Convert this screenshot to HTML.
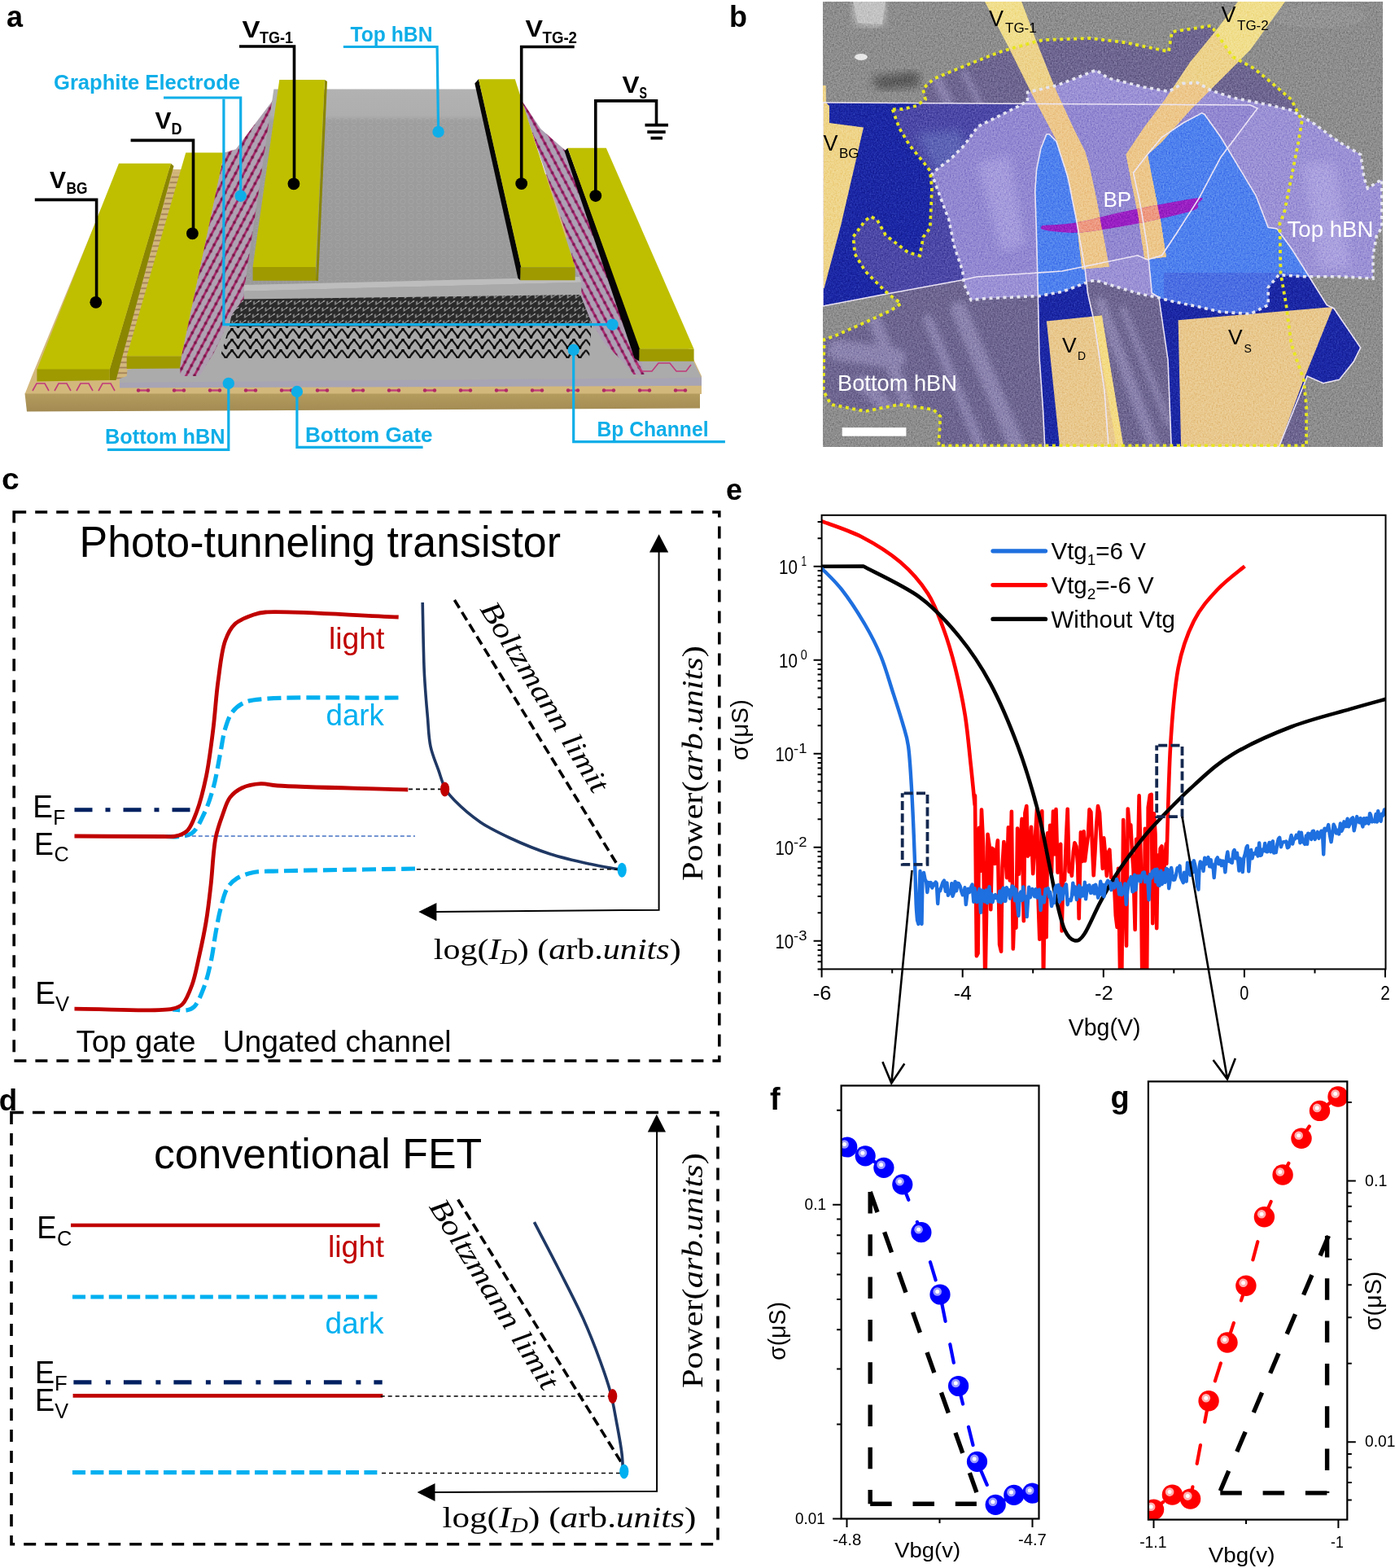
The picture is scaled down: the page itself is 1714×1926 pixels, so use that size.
<!DOCTYPE html>
<html><head><meta charset="utf-8"><title>Figure</title>
<style>html,body{margin:0;padding:0;background:#fff;}svg{display:block;}</style></head>
<body><svg xmlns="http://www.w3.org/2000/svg" width="1714" height="1926" viewBox="0 0 1714 1926">
<rect width="1714" height="1926" fill="#fff"/>
<defs>
<pattern id="pkl" width="9" height="9" patternUnits="userSpaceOnUse" patternTransform="rotate(-62)">
<rect width="9" height="9" fill="#AFA2B2"/><path d="M0 4.5H9" stroke="#A52064" stroke-width="2.6"/><circle cx="2" cy="4.5" r="1.9" fill="#7A1548"/></pattern>
<pattern id="pkr" width="9" height="9" patternUnits="userSpaceOnUse" patternTransform="rotate(62)">
<rect width="9" height="9" fill="#ADA0B4"/><path d="M0 4.5H9" stroke="#A8226E" stroke-width="2.6"/><circle cx="2" cy="4.5" r="1.9" fill="#7C1752"/></pattern>
<pattern id="bp" width="10" height="8" patternUnits="userSpaceOnUse" patternTransform="skewX(-35)">
<rect width="10" height="8" fill="#2A2A2A"/><path d="M1 2L4 6L7 2" fill="none" stroke="#9A9A9A" stroke-width="1.3"/><circle cx="7" cy="2" r="1" fill="#C8C8C8"/></pattern>
<pattern id="bp2" width="30" height="13" patternUnits="userSpaceOnUse">
<rect width="30" height="13" fill="#A9A9A9"/><path d="M0 1L7.5 11L15 1L22.5 11L30 1M7.5 11L12 4M22.5 11L27 4" fill="none" stroke="#151515" stroke-width="2.2"/><circle cx="7.5" cy="11" r="2" fill="#000"/><circle cx="22.5" cy="11" r="2" fill="#000"/><circle cx="15" cy="1.5" r="1.8" fill="#000"/></pattern>
<pattern id="hbn" width="10" height="9" patternUnits="userSpaceOnUse">
<rect width="10" height="9" fill="#9A9A9A"/><circle cx="5" cy="4.5" r="3.2" fill="none" stroke="#B4B4B4" stroke-width="1"/></pattern>
<pattern id="lad" width="40" height="6.5" patternUnits="userSpaceOnUse"><rect width="40" height="6.5" fill="#D3B87C"/><path d="M0 3.2H40" stroke="#9C7A50" stroke-width="1.6"/></pattern>
<linearGradient id="tbg" x1="0" y1="0" x2="0" y2="1"><stop offset="0" stop-color="#B2B2B2"/><stop offset="0.13" stop-color="#AEAEAE"/><stop offset="0.16" stop-color="#A0A0A0"/><stop offset="1" stop-color="#989898"/></linearGradient>
<linearGradient id="frt" x1="0" y1="0" x2="0" y2="1"><stop offset="0" stop-color="#B49C5E"/><stop offset="1" stop-color="#A28A52"/></linearGradient>
</defs>
<text x="8" y="33" font-size="36" font-family="'Liberation Sans', Arial, sans-serif" font-weight="bold">a</text>
<path d="M30.5 484L862 484L862 462L745 215L215 208L146 204L40 460Z" fill="#D3B87C"/>
<path d="M30.5 483.5L860 483.5L860 501.6L33 505.5Z" fill="url(#frt)"/>
<path d="M40 480l5 -9h10l5 9" fill="none" stroke="#C03A7A" stroke-width="1.6"/><path d="M67 480l5 -9h10l5 9" fill="none" stroke="#C03A7A" stroke-width="1.6"/><path d="M94 480l5 -9h10l5 9" fill="none" stroke="#C03A7A" stroke-width="1.6"/><path d="M121 480l5 -9h10l5 9" fill="none" stroke="#C03A7A" stroke-width="1.6"/>
<path d="M147 470.5L862 464L775 290L300 300L230 440L147 456Z" fill="#ABABAB"/>
<path d="M147 470L862 463.8L862 473.8L147 476.5Z" fill="#A7A4B4"/>
<path d="M170 479.5h12" stroke="#C0407A" stroke-width="2.4"/><circle cx="170" cy="479.5" r="2.2" fill="#B02A66"/><circle cx="182" cy="479.5" r="2.2" fill="#B02A66"/><path d="M214 479.5h12" stroke="#C0407A" stroke-width="2.4"/><circle cx="214" cy="479.5" r="2.2" fill="#B02A66"/><circle cx="226" cy="479.5" r="2.2" fill="#B02A66"/><path d="M258 479.5h12" stroke="#C0407A" stroke-width="2.4"/><circle cx="258" cy="479.5" r="2.2" fill="#B02A66"/><circle cx="270" cy="479.5" r="2.2" fill="#B02A66"/><path d="M302 479.5h12" stroke="#C0407A" stroke-width="2.4"/><circle cx="302" cy="479.5" r="2.2" fill="#B02A66"/><circle cx="314" cy="479.5" r="2.2" fill="#B02A66"/><path d="M346 479.5h12" stroke="#C0407A" stroke-width="2.4"/><circle cx="346" cy="479.5" r="2.2" fill="#B02A66"/><circle cx="358" cy="479.5" r="2.2" fill="#B02A66"/><path d="M390 479.5h12" stroke="#C0407A" stroke-width="2.4"/><circle cx="390" cy="479.5" r="2.2" fill="#B02A66"/><circle cx="402" cy="479.5" r="2.2" fill="#B02A66"/><path d="M434 479.5h12" stroke="#C0407A" stroke-width="2.4"/><circle cx="434" cy="479.5" r="2.2" fill="#B02A66"/><circle cx="446" cy="479.5" r="2.2" fill="#B02A66"/><path d="M478 479.5h12" stroke="#C0407A" stroke-width="2.4"/><circle cx="478" cy="479.5" r="2.2" fill="#B02A66"/><circle cx="490" cy="479.5" r="2.2" fill="#B02A66"/><path d="M522 479.5h12" stroke="#C0407A" stroke-width="2.4"/><circle cx="522" cy="479.5" r="2.2" fill="#B02A66"/><circle cx="534" cy="479.5" r="2.2" fill="#B02A66"/><path d="M566 479.5h12" stroke="#C0407A" stroke-width="2.4"/><circle cx="566" cy="479.5" r="2.2" fill="#B02A66"/><circle cx="578" cy="479.5" r="2.2" fill="#B02A66"/><path d="M610 479.5h12" stroke="#C0407A" stroke-width="2.4"/><circle cx="610" cy="479.5" r="2.2" fill="#B02A66"/><circle cx="622" cy="479.5" r="2.2" fill="#B02A66"/><path d="M654 479.5h12" stroke="#C0407A" stroke-width="2.4"/><circle cx="654" cy="479.5" r="2.2" fill="#B02A66"/><circle cx="666" cy="479.5" r="2.2" fill="#B02A66"/><path d="M698 479.5h12" stroke="#C0407A" stroke-width="2.4"/><circle cx="698" cy="479.5" r="2.2" fill="#B02A66"/><circle cx="710" cy="479.5" r="2.2" fill="#B02A66"/><path d="M742 479.5h12" stroke="#C0407A" stroke-width="2.4"/><circle cx="742" cy="479.5" r="2.2" fill="#B02A66"/><circle cx="754" cy="479.5" r="2.2" fill="#B02A66"/><path d="M786 479.5h12" stroke="#C0407A" stroke-width="2.4"/><circle cx="786" cy="479.5" r="2.2" fill="#B02A66"/><circle cx="798" cy="479.5" r="2.2" fill="#B02A66"/><path d="M830 479.5h12" stroke="#C0407A" stroke-width="2.4"/><circle cx="830" cy="479.5" r="2.2" fill="#B02A66"/><circle cx="842" cy="479.5" r="2.2" fill="#B02A66"/>
<path d="M282 400L727 398L724 440L270 440Z" fill="url(#bp2)"/>
<path d="M288 364L727 360L727 400L282 401Z" fill="url(#bp)"/>
<path d="M212 212L228 212L158 440L155.7 462L142 467Z" fill="url(#lad)"/>
<path d="M209.9 200.7L213.5 204L142.5 467L134.7 467L134.7 454Z" fill="#8A8600"/>
<path d="M146 200.7L209.9 200.7L134.7 454L45.4 454Z" fill="#BFBF00"/>
<path d="M45.4 453.5L134.7 453.5L134.7 467L45.4 468.5Z" fill="#9E9A00"/>
<path d="M228.3 187.4L275.6 187.4L223 437.6L155.7 437.6Z" fill="#BFBF00"/>
<path d="M155.7 437.6L223 437.6L223 452.5L155.7 453Z" fill="#9E9A00"/>
<path d="M345 108L340 180L330 220L318 298L306 358L286 385L262.5 433.8L245 462L222 462L221 452L223 437.6L275.6 187.4L289.8 183.2L333.4 125.6Z" fill="url(#pkl)"/>
<path d="M640 122L664.6 158.4L694.4 184.6L787 440L792 460L778 460L766.7 445.6L742.4 421.4L725.6 393.4L710.7 356L700 300Z" fill="url(#pkr)"/>
<path d="M781 446l8 10h12l8 -10h14l8 10h12l6 -8" fill="none" stroke="#C03A7A" stroke-width="1.6"/>
<path d="M336.4 109.4L590 109.4L714.4 346.7L299.7 357.7Z" fill="url(#tbg)"/>
<path d="M336 145L600 145L712 340L302 350Z" fill="url(#hbn)" opacity="0.3"/>
<path d="M300 350L712 340L714.4 346.7L299.7 357.7Z" fill="#BDBDBD"/>
<path d="M299.7 357.7L714.4 346.7L714.4 362L299.7 367.6Z" fill="#A9A9A9"/>
<path d="M398.9 97.9L402 100L391 345L388 344.8Z" fill="#8A8600"/>
<path d="M343.3 97.9L398.9 97.9L388 328L310.6 328Z" fill="#BFBF00"/>
<path d="M310.6 328L388 328L388 344.8L310.6 344.8Z" fill="#9E9A00"/>
<path d="M583.3 102.4L588 97.2L640.3 328.3L639.4 344.2L636.5 342Z" fill="#050505"/>
<path d="M588 97.2L632.8 97.2L706.6 328.3L640.3 328.3Z" fill="#BFBF00"/>
<path d="M639.4 328.3L706.6 328.3L706.6 344.2L639.4 344.2Z" fill="#9E9A00"/>
<path d="M693.5 185.5L697.5 181.8L787 428.8L785.4 443.8L779.5 440Z" fill="#050505"/>
<path d="M697.5 181.8L744.8 181.8L852.6 428.8L786 428.8Z" fill="#BFBF00"/>
<path d="M785.4 428.8L852.6 428.8L852.6 443.8L785.4 443.8Z" fill="#9E9A00"/>
<path d="M42.8 245.4H118.6V371.3M160.6 172.4H237.5V287M294 57H361.5V225.8M705.7 57.5H640.7V225.6M731.8 240.6V123.9H806.5V153.7" fill="none" stroke="#000" stroke-width="3.6"/><path d="M792.5 153.7H821M795.3 162.2H817.7M799.5 169.6H814" fill="none" stroke="#000" stroke-width="3.8"/><circle cx="117.8" cy="371.3" r="7.4" fill="#000"/><circle cx="236.4" cy="286.8" r="7.4" fill="#000"/><circle cx="360.9" cy="225.8" r="7.4" fill="#000"/><circle cx="640.7" cy="225.6" r="7.4" fill="#000"/><circle cx="731.8" cy="240.6" r="7.4" fill="#000"/>
<path d="M421.9 57.5H537.1L538.6 161.9M201 120H295.7V240.7M274.9 121.7V398.7H752M280.8 470.9V552.3H132M364.9 481V549.3H519.6M704.7 429.8V542.7H890.9" fill="none" stroke="#0FAEE8" stroke-width="3.2"/><circle cx="538.6" cy="161.9" r="7.2" fill="#0FAEE8"/><circle cx="295.7" cy="240.7" r="7.2" fill="#0FAEE8"/><circle cx="752.5" cy="398.7" r="7.2" fill="#0FAEE8"/><circle cx="280.8" cy="470.9" r="7.2" fill="#0FAEE8"/><circle cx="364.9" cy="481" r="7.2" fill="#0FAEE8"/><circle cx="704.7" cy="429.8" r="7.2" fill="#0FAEE8"/>
<text x="297.5" y="46" font-size="30" font-family="'Liberation Sans', Arial, sans-serif" font-weight="bold" textLength="22" lengthAdjust="spacingAndGlyphs">V</text><text x="319" y="52.5" font-size="20" font-family="'Liberation Sans', Arial, sans-serif" font-weight="bold" textLength="41" lengthAdjust="spacingAndGlyphs">TG-1</text>
<text x="190.5" y="157.5" font-size="30" font-family="'Liberation Sans', Arial, sans-serif" font-weight="bold" textLength="20" lengthAdjust="spacingAndGlyphs">V</text><text x="210.5" y="165" font-size="20" font-family="'Liberation Sans', Arial, sans-serif" font-weight="bold" textLength="13" lengthAdjust="spacingAndGlyphs">D</text>
<text x="61" y="231" font-size="30" font-family="'Liberation Sans', Arial, sans-serif" font-weight="bold" textLength="20" lengthAdjust="spacingAndGlyphs">V</text><text x="81.5" y="237.5" font-size="20" font-family="'Liberation Sans', Arial, sans-serif" font-weight="bold" textLength="26" lengthAdjust="spacingAndGlyphs">BG</text>
<text x="645.5" y="45.2" font-size="30" font-family="'Liberation Sans', Arial, sans-serif" font-weight="bold" textLength="21.5" lengthAdjust="spacingAndGlyphs">V</text><text x="666.5" y="52.5" font-size="20" font-family="'Liberation Sans', Arial, sans-serif" font-weight="bold" textLength="42.5" lengthAdjust="spacingAndGlyphs">TG-2</text>
<text x="764.5" y="113.6" font-size="30" font-family="'Liberation Sans', Arial, sans-serif" font-weight="bold" textLength="21" lengthAdjust="spacingAndGlyphs">V</text><text x="785.5" y="121" font-size="20" font-family="'Liberation Sans', Arial, sans-serif" font-weight="bold" textLength="9.5" lengthAdjust="spacingAndGlyphs">S</text>
<text x="430.5" y="51" font-size="25" font-family="'Liberation Sans', Arial, sans-serif" font-weight="bold" fill="#0FAEE8" textLength="101" lengthAdjust="spacingAndGlyphs">Top hBN</text>
<text x="66" y="110" font-size="25" font-family="'Liberation Sans', Arial, sans-serif" font-weight="bold" fill="#0FAEE8" textLength="229" lengthAdjust="spacingAndGlyphs">Graphite Electrode</text>
<text x="129" y="545.3" font-size="25" font-family="'Liberation Sans', Arial, sans-serif" font-weight="bold" fill="#0FAEE8" textLength="147.5" lengthAdjust="spacingAndGlyphs">Bottom hBN</text>
<text x="375" y="542.7" font-size="25" font-family="'Liberation Sans', Arial, sans-serif" font-weight="bold" fill="#0FAEE8" textLength="156.5" lengthAdjust="spacingAndGlyphs">Bottom Gate</text>
<text x="733.5" y="536.2" font-size="25" font-family="'Liberation Sans', Arial, sans-serif" font-weight="bold" fill="#0FAEE8" textLength="137" lengthAdjust="spacingAndGlyphs">Bp Channel</text>
<text x="896" y="33" font-size="36" font-family="'Liberation Sans', Arial, sans-serif" font-weight="bold">b</text>
<defs>
<clipPath id="cb"><rect x="1011" y="2" width="688" height="547"/></clipPath>
<clipPath id="chb"><path d="M1096.6 134.4L1105 157.5L1117.6 178.5L1136.5 201.6L1142.8 210L1145 231L1142.8 280L1134.4 291L1130.2 314.1L1115.5 309.9L1088.2 288.9L1077.7 270L1070 266L1063 271L1048.3 291L1050.4 312L1063 333L1088.2 358.2L1098.7 366.6L1107.1 372.9L1094.5 381.3L1063 396L1025.2 412.8L1012.6 417L1011.6 480L1021 496.8L1063 505.2L1105 496.8L1147 503.1L1155.4 511.5L1153.3 547.5L1605.1 547.5L1605.1 499.1L1601.8 466.4L1586.6 422.7L1580 372.6L1573.5 335.5L1572.4 274.4L1577.8 261.8L1586.6 218.2L1595.3 174.6L1599.7 148.4L1586.6 122.2L1558.2 98.2L1540.7 84L1514.6 69.8L1492.7 38.2L1488 31.6L1440 39L1436 63.3L1383.6 52.4L1340 47L1283 49L1273 51L1231 63L1210 71L1168 88L1147 97L1134 109L1137 122L1126 130L1109 134Z"/></clipPath>
<clipPath id="cth"><path d="M1262.5 124L1262.5 113.4L1298 105L1315 98.7L1346.6 86.1L1361.8 96L1405.5 107L1436 112.4L1453.5 102.6L1471 101.5L1488.4 111.3L1514.6 120L1558.2 128.7L1586.6 135.3L1612.7 150.6L1645.5 174.6L1671.7 189.8L1676 218.2L1680.4 231.3L1697.8 220.4L1697.8 279.3L1691.3 290L1687 313.6L1687 342L1645.5 339.8L1601.8 339.8L1571.3 337.6L1558.2 352.9L1558.2 374.7L1536.4 385.6L1500 383.2L1470 376.2L1442 370.6L1421 365L1400 360.8L1372 352.4L1345.4 344L1335.6 346.8L1306.2 358L1276.8 363.6L1260 364.3L1210 366.6L1193.2 368.7L1184.8 349.8L1182.7 333L1172.2 301.5L1165.9 270L1151.2 231L1145 214.2L1151.2 208L1168 195.3L1184.8 178.5L1201.6 155.4L1226.8 142.8L1252 130.2Z"/></clipPath>
<filter id="nz" x="0" y="0" width="100%" height="100%"><feTurbulence type="fractalNoise" baseFrequency="0.9" numOctaves="2" seed="3" result="t"/><feColorMatrix in="t" type="matrix" values="0 0 0 0 0  0 0 0 0 0  0 0 0 0 0  0 0 0 -1.2 0.75" result="a"/><feComposite in="a" in2="SourceGraphic" operator="in"/></filter>
<filter id="bl"><feGaussianBlur stdDeviation="6"/></filter><filter id="nz2" x="0" y="0" width="100%" height="100%" color-interpolation-filters="sRGB"><feTurbulence type="fractalNoise" baseFrequency="0.55" numOctaves="2" seed="5"/><feColorMatrix type="matrix" values="0.33 0.33 0.33 0 0  0.33 0.33 0.33 0 0  0.33 0.33 0.33 0 0  0 0 0 0 1"/><feComponentTransfer><feFuncR type="linear" slope="2.2" intercept="-0.6"/><feFuncG type="linear" slope="2.2" intercept="-0.6"/><feFuncB type="linear" slope="2.2" intercept="-0.6"/></feComponentTransfer></filter><filter id="bl2" x="-20%" y="-20%" width="140%" height="140%"><feGaussianBlur stdDeviation="3.5"/></filter>
</defs>
<g clip-path="url(#cb)" style="isolation:isolate"><rect x="1011" y="2" width="688" height="547" fill="#8E8E8E"/><path d="M1048 2H1088L1084 32L1052 30Z" fill="#C9C9C9" filter="url(#bl)"/><path d="M1048 2H1088L1084 30L1054 28Z" fill="#C4C4C4"/><ellipse cx="1058" cy="70" rx="8" ry="4" fill="#E8E8E8"/><path d="M1070 95L1128 88L1130 106L1080 110Z" fill="#555" filter="url(#bl)"/><ellipse cx="1620" cy="20" rx="60" ry="15" fill="#999" opacity="0.5"/><circle cx="1529" cy="93" r="9" fill="#3a3550" filter="url(#bl)"/><path d="M1096.6 134.4L1105 157.5L1117.6 178.5L1136.5 201.6L1142.8 210L1145 231L1142.8 280L1134.4 291L1130.2 314.1L1115.5 309.9L1088.2 288.9L1077.7 270L1070 266L1063 271L1048.3 291L1050.4 312L1063 333L1088.2 358.2L1098.7 366.6L1107.1 372.9L1094.5 381.3L1063 396L1025.2 412.8L1012.6 417L1011.6 480L1021 496.8L1063 505.2L1105 496.8L1147 503.1L1155.4 511.5L1153.3 547.5L1605.1 547.5L1605.1 499.1L1601.8 466.4L1586.6 422.7L1580 372.6L1573.5 335.5L1572.4 274.4L1577.8 261.8L1586.6 218.2L1595.3 174.6L1599.7 148.4L1586.6 122.2L1558.2 98.2L1540.7 84L1514.6 69.8L1492.7 38.2L1488 31.6L1440 39L1436 63.3L1383.6 52.4L1340 47L1283 49L1273 51L1231 63L1210 71L1168 88L1147 97L1134 109L1137 122L1126 130L1109 134Z" fill="#6F6792"/><g clip-path="url(#chb)"><g opacity="0.55" filter="url(#bl2)" stroke="#A59DC8" fill="none" stroke-linecap="round"><path d="M1075 395L1135 549" stroke-width="16"/><path d="M1140 392L1205 549" stroke-width="12"/><path d="M1178 380L1250 549" stroke-width="20"/><path d="M1352 372L1418 549" stroke-width="14"/><path d="M1380 380L1436 520" stroke-width="8"/><path d="M1150 95L1200 200" stroke-width="12"/><path d="M1185 90L1235 190" stroke-width="8"/><path d="M1030 430L1100 440" stroke-width="26"/><path d="M1060 470L1090 500" stroke-width="18"/></g></g><path d="M1011 126L1536 129L1545 133L1500 193L1473 243.8L1445 287.5L1427.5 313.8L1410 319L1397.8 313.8L1305 333L1200 340L1185 343.5L1084 362L1011 376Z" fill="#1B27A6"/><g clip-path="url(#chb)"><path d="M1011 126L1536 129L1545 133L1500 193L1473 243.8L1445 287.5L1427.5 313.8L1410 319L1397.8 313.8L1305 333L1200 340L1185 343.5L1084 362L1011 376Z" fill="#4C48A8"/></g><path d="M1126 164L1180 160L1190 200L1150 212Z" fill="#6A78C0" opacity="0.6" filter="url(#bl)"/><path d="M1285.8 165L1289.3 165L1298 173.8L1312 217.5L1322.5 270L1333 329.6L1336.5 360L1344.5 396L1357 480L1362 549L1283.8 549L1281.4 501L1277 438L1275.3 360L1273.5 287.5L1271.8 235L1273.5 208.8L1278.8 182.5Z" fill="#1B27A6"/><path d="M1392.5 212.3L1410 189.5L1427.5 168.5L1453.8 151L1476.6 138.8L1480 140.5L1500 168.5L1523.3 207.3L1543 240L1558.2 279.3L1569 281L1586.6 305L1601.8 329L1630.2 374.7L1639 379L1667.3 420.6L1671.7 427L1663 444.6L1645.5 466.4L1625.8 470.7L1606.2 462L1571.3 549L1439.2 549L1435 442L1423.8 365L1415.3 360L1410 305L1401.3 252.5Z" fill="#1B27A6"/><path d="M1262.5 124L1262.5 113.4L1298 105L1315 98.7L1346.6 86.1L1361.8 96L1405.5 107L1436 112.4L1453.5 102.6L1471 101.5L1488.4 111.3L1514.6 120L1558.2 128.7L1586.6 135.3L1612.7 150.6L1645.5 174.6L1671.7 189.8L1676 218.2L1680.4 231.3L1697.8 220.4L1697.8 279.3L1691.3 290L1687 313.6L1687 342L1645.5 339.8L1601.8 339.8L1571.3 337.6L1558.2 352.9L1558.2 374.7L1536.4 385.6L1500 383.2L1470 376.2L1442 370.6L1421 365L1400 360.8L1372 352.4L1345.4 344L1335.6 346.8L1306.2 358L1276.8 363.6L1260 364.3L1210 366.6L1193.2 368.7L1184.8 349.8L1182.7 333L1172.2 301.5L1165.9 270L1151.2 231L1145 214.2L1151.2 208L1168 195.3L1184.8 178.5L1201.6 155.4L1226.8 142.8L1252 130.2Z" fill="#9C92D6"/><g clip-path="url(#cth)"><path d="M1011 126L1536 129L1545 133L1500 193L1473 243.8L1445 287.5L1427.5 313.8L1410 319L1397.8 313.8L1305 333L1200 340L1185 343.5L1084 362L1011 376Z" fill="#9389D2"/><path d="M1285.8 165L1289.3 165L1298 173.8L1312 217.5L1322.5 270L1333 329.6L1336.5 360L1344.5 396L1357 480L1362 549L1283.8 549L1281.4 501L1277 438L1275.3 360L1273.5 287.5L1271.8 235L1273.5 208.8L1278.8 182.5Z" fill="#4F82EE"/><path d="M1392.5 212.3L1410 189.5L1427.5 168.5L1453.8 151L1476.6 138.8L1480 140.5L1500 168.5L1523.3 207.3L1543 240L1558.2 279.3L1569 281L1586.6 305L1601.8 329L1630.2 374.7L1639 379L1667.3 420.6L1671.7 427L1663 444.6L1645.5 466.4L1625.8 470.7L1606.2 462L1571.3 549L1439.2 549L1435 442L1423.8 365L1415.3 360L1410 305L1401.3 252.5Z" fill="#4F82EE"/><path d="M1430 335H1600V390H1430Z" fill="#4A6CE0" opacity="0.85"/></g><g clip-path="url(#cth)" opacity="0.35"><path d="M1011 140L1060 130L1110 300L1060 320Z M1200 200L1240 190L1260 300L1230 310Z M1600 200L1640 200L1660 330L1620 330Z" fill="#C8C0F0" filter="url(#bl)"/></g><path d="M1210 2L1255.2 2L1277 60L1298 112.5L1319 158L1333 186L1338.3 203.5L1347 243.8L1361 319L1362.8 327.5L1329.5 330.5L1322.5 270L1313.8 226.3L1305 193L1298 172L1270 119.5L1240.3 60Z" fill="#F1DF8E"/><g clip-path="url(#cth)"><path d="M1210 2L1255.2 2L1277 60L1298 112.5L1319 158L1333 186L1338.3 203.5L1347 243.8L1361 319L1362.8 327.5L1329.5 330.5L1322.5 270L1313.8 226.3L1305 193L1298 172L1270 119.5L1240.3 60Z" fill="#EFC48E"/></g><g clip-path="url(#chb)"><path d="M1210 2L1255.2 2L1277 60L1298 112.5L1319 158L1333 186L1338.3 203.5L1347 243.8L1361 319L1362.8 327.5L1329.5 330.5L1322.5 270L1313.8 226.3L1305 193L1298 172L1270 119.5L1240.3 60Z" fill="#EBCB8A" opacity="0.6"/></g><path d="M1521 2L1579 2L1536.4 61.1L1492.7 104.7L1462.2 135.3L1427.3 174.6L1410 190L1415.3 217.5L1425.8 270L1432.8 315.6L1406.5 319L1397.8 261.3L1389 217.5L1383.6 189.8L1405.5 157.1L1431.6 122.2L1462.2 76.4L1492.7 39.3Z" fill="#F1DF8E"/><g clip-path="url(#cth)"><path d="M1521 2L1579 2L1536.4 61.1L1492.7 104.7L1462.2 135.3L1427.3 174.6L1410 190L1415.3 217.5L1425.8 270L1432.8 315.6L1406.5 319L1397.8 261.3L1389 217.5L1383.6 189.8L1405.5 157.1L1431.6 122.2L1462.2 76.4L1492.7 39.3Z" fill="#EFC48E"/></g><g clip-path="url(#chb)"><path d="M1521 2L1579 2L1536.4 61.1L1492.7 104.7L1462.2 135.3L1427.3 174.6L1410 190L1415.3 217.5L1425.8 270L1432.8 315.6L1406.5 319L1397.8 261.3L1389 217.5L1383.6 189.8L1405.5 157.1L1431.6 122.2L1462.2 76.4L1492.7 39.3Z" fill="#EBCB8A" opacity="0.6"/></g><path d="M1011 105L1014.7 105L1015 126L1019 130L1019 151L1061 156.5L1033.6 275L1012.6 354L1011 354Z" fill="#EFD58A"/><path d="M1285.9 394.4L1353.8 387.4L1380.4 549L1302 549Z" fill="#E9C98E"/><path d="M1344 388.8L1353.8 387.4L1380.4 549L1372 549Z" fill="#F4DC86"/><path d="M1447.6 393.3L1637.8 377L1601.8 466.4L1571.3 549L1451.1 549Z" fill="#E9C98E"/><path d="M1290 112L1330 112L1345 210L1300 205Z" fill="#F2C48A" opacity="0.0"/><path d="M1280.5 277C1287.5 276.4 1306.8 276.1 1322.5 273.5C1338.2 270.9 1357.5 265.1 1375 261.3C1392.5 257.5 1410.9 253.9 1427.5 250.8C1444.1 247.8 1467.4 243.1 1474.8 243C1482.2 242.9 1473.2 247.5 1472 250C1470.8 252.5 1475.2 254.8 1467.8 257.8C1460.4 260.9 1443 264.8 1427.5 268.3C1412 271.8 1392.5 275.9 1375 278.8C1357.5 281.7 1338 285.2 1322.5 285.8C1307 286.4 1289.3 283.8 1282.3 282.3C1275.3 280.8 1280.8 277.9 1280.5 277" fill="#9B1FC4"/><clipPath id="cel"><path d="M1210 2L1255.2 2L1277 60L1298 112.5L1319 158L1333 186L1338.3 203.5L1347 243.8L1361 319L1362.8 327.5L1329.5 330.5L1322.5 270L1313.8 226.3L1305 193L1298 172L1270 119.5L1240.3 60Z"/><path d="M1521 2L1579 2L1536.4 61.1L1492.7 104.7L1462.2 135.3L1427.3 174.6L1410 190L1415.3 217.5L1425.8 270L1432.8 315.6L1406.5 319L1397.8 261.3L1389 217.5L1383.6 189.8L1405.5 157.1L1431.6 122.2L1462.2 76.4L1492.7 39.3Z"/></clipPath><g clip-path="url(#cel)"><path d="M1280.5 277C1287.5 276.4 1306.8 276.1 1322.5 273.5C1338.2 270.9 1357.5 265.1 1375 261.3C1392.5 257.5 1410.9 253.9 1427.5 250.8C1444.1 247.8 1467.4 243.1 1474.8 243C1482.2 242.9 1473.2 247.5 1472 250C1470.8 252.5 1475.2 254.8 1467.8 257.8C1460.4 260.9 1443 264.8 1427.5 268.3C1412 271.8 1392.5 275.9 1375 278.8C1357.5 281.7 1338 285.2 1322.5 285.8C1307 286.4 1289.3 283.8 1282.3 282.3C1275.3 280.8 1280.8 277.9 1280.5 277" fill="#EE9A82"/></g><path d="M1011 126L1536 129L1545 133L1500 193L1473 243.8L1445 287.5L1427.5 313.8L1410 319L1397.8 313.8L1305 333L1200 340L1185 343.5L1084 362L1011 376Z" fill="none" stroke="#EDE6F5" stroke-width="1.6"/><path d="M1285.8 165L1289.3 165L1298 173.8L1312 217.5L1322.5 270L1333 329.6L1336.5 360L1344.5 396L1357 480L1362 549L1283.8 549L1281.4 501L1277 438L1275.3 360L1273.5 287.5L1271.8 235L1273.5 208.8L1278.8 182.5Z" fill="none" stroke="#EDE6F5" stroke-width="1.6"/><path d="M1392.5 212.3L1410 189.5L1427.5 168.5L1453.8 151L1476.6 138.8L1480 140.5L1500 168.5L1523.3 207.3L1543 240L1558.2 279.3L1569 281L1586.6 305L1601.8 329L1630.2 374.7L1639 379L1667.3 420.6L1671.7 427L1663 444.6L1645.5 466.4L1625.8 470.7L1606.2 462L1571.3 549L1439.2 549L1435 442L1423.8 365L1415.3 360L1410 305L1401.3 252.5Z" fill="none" stroke="#EDE6F5" stroke-width="1.6"/><path d="M1262.5 124L1262.5 113.4L1298 105L1315 98.7L1346.6 86.1L1361.8 96L1405.5 107L1436 112.4L1453.5 102.6L1471 101.5L1488.4 111.3L1514.6 120L1558.2 128.7L1586.6 135.3L1612.7 150.6L1645.5 174.6L1671.7 189.8L1676 218.2L1680.4 231.3L1697.8 220.4L1697.8 279.3L1691.3 290L1687 313.6L1687 342L1645.5 339.8L1601.8 339.8L1571.3 337.6L1558.2 352.9L1558.2 374.7L1536.4 385.6L1500 383.2L1470 376.2L1442 370.6L1421 365L1400 360.8L1372 352.4L1345.4 344L1335.6 346.8L1306.2 358L1276.8 363.6L1260 364.3L1210 366.6L1193.2 368.7L1184.8 349.8L1182.7 333L1172.2 301.5L1165.9 270L1151.2 231L1145 214.2L1151.2 208L1168 195.3L1184.8 178.5L1201.6 155.4L1226.8 142.8L1252 130.2Z" fill="none" stroke="#E6E6F0" stroke-width="3.6" stroke-dasharray="4 4.5"/><path d="M1096.6 134.4L1105 157.5L1117.6 178.5L1136.5 201.6L1142.8 210L1145 231L1142.8 280L1134.4 291L1130.2 314.1L1115.5 309.9L1088.2 288.9L1077.7 270L1070 266L1063 271L1048.3 291L1050.4 312L1063 333L1088.2 358.2L1098.7 366.6L1107.1 372.9L1094.5 381.3L1063 396L1025.2 412.8L1012.6 417L1011.6 480L1021 496.8L1063 505.2L1105 496.8L1147 503.1L1155.4 511.5L1153.3 547.5L1605.1 547.5L1605.1 499.1L1601.8 466.4L1586.6 422.7L1580 372.6L1573.5 335.5L1572.4 274.4L1577.8 261.8L1586.6 218.2L1595.3 174.6L1599.7 148.4L1586.6 122.2L1558.2 98.2L1540.7 84L1514.6 69.8L1492.7 38.2L1488 31.6L1440 39L1436 63.3L1383.6 52.4L1340 47L1283 49L1273 51L1231 63L1210 71L1168 88L1147 97L1134 109L1137 122L1126 130L1109 134Z" fill="none" stroke="#E8E81E" stroke-width="3.8" stroke-dasharray="4 4.5"/><rect x="1011" y="2" width="688" height="547" filter="url(#nz2)" opacity="0.55" style="mix-blend-mode:soft-light"/></g>
<text x="1215" y="31.5" font-size="27" font-family="'Liberation Sans', Arial, sans-serif">V</text><text x="1235" y="40" font-size="17" font-family="'Liberation Sans', Arial, sans-serif">TG-1</text>
<text x="1500.5" y="27.3" font-size="27" font-family="'Liberation Sans', Arial, sans-serif">V</text><text x="1520" y="37.1" font-size="17" font-family="'Liberation Sans', Arial, sans-serif">TG-2</text>
<text x="1011.5" y="184.8" font-size="27" font-family="'Liberation Sans', Arial, sans-serif">V</text><text x="1031" y="194.3" font-size="17" font-family="'Liberation Sans', Arial, sans-serif">BG</text>
<text x="1305" y="433" font-size="26.5" font-family="'Liberation Sans', Arial, sans-serif">V</text><text x="1324" y="442" font-size="14" font-family="'Liberation Sans', Arial, sans-serif">D</text>
<text x="1509" y="422.7" font-size="26.5" font-family="'Liberation Sans', Arial, sans-serif">V</text><text x="1528.5" y="432.6" font-size="14" font-family="'Liberation Sans', Arial, sans-serif">S</text>
<text x="1355.5" y="254.3" font-size="26" font-family="'Liberation Sans', Arial, sans-serif" fill="#fff">BP</text>
<text x="1581.5" y="290.7" font-size="28" font-family="'Liberation Sans', Arial, sans-serif" fill="#fff" textLength="106" lengthAdjust="spacingAndGlyphs">Top hBN</text>
<text x="1029" y="480" font-size="28" font-family="'Liberation Sans', Arial, sans-serif" fill="#fff" textLength="147" lengthAdjust="spacingAndGlyphs">Bottom hBN</text>
<rect x="1034.7" y="525.2" width="78.7" height="10.5" fill="#fff"/>
<text x="2" y="600.8" font-size="37" font-family="'Liberation Sans', Arial, sans-serif" textLength="21.6" lengthAdjust="spacingAndGlyphs" font-weight="bold">c</text>
<rect x="17.2" y="629" width="866.6" height="674" fill="none" stroke="#000" stroke-width="3.6" stroke-dasharray="15 11"/>
<text x="97.6" y="683.9" font-size="54" font-family="'Liberation Sans', Arial, sans-serif" textLength="591.4" lengthAdjust="spacingAndGlyphs">Photo-tunneling transistor</text>
<path d="M203 1027.5C208.1 1027.5 213.1 1028.2 218.4 1027.6C224.1 1026.9 230.9 1027 235.9 1023.4C242.1 1019 246.3 1008.7 250.5 1000C255.2 990.4 258.7 979.6 262 968C265.7 954.6 268.3 937.1 270.9 924C273 913.3 274 903.7 276.7 895C279 887.5 281.3 880.1 285.5 874.6C289.3 869.6 294.2 865.7 300 863C306.5 860 311.7 859.7 323 858.6C353 855.6 434.1 857.5 489.7 857" fill="none" stroke="#00B0F0" stroke-width="5.2" stroke-dasharray="17 7"/>
<path d="M510 1067C453.6 1068 374 1068.9 340.9 1070C327.1 1070.5 320.4 1069.7 311.7 1071.5C304.2 1073 296.9 1075.3 291.3 1078.8C286.5 1081.9 282.8 1085.3 279.6 1090.4C275.5 1097 273.3 1107.6 270.9 1116.7C268.4 1126.1 266.9 1135.7 265 1145.9C263 1157 261.7 1169.5 259.2 1180.9C256.8 1191.9 254.2 1203.3 250.5 1213C247.2 1221.6 243.2 1231.9 238.8 1236.3C236.1 1239 233.6 1240 230 1240.7C225.2 1241.7 218 1240.1 212 1239.8" fill="none" stroke="#00B0F0" stroke-width="5.2" stroke-dasharray="17 7"/>
<line x1="203.8" y1="1027" x2="510" y2="1027" stroke="#4472C4" stroke-width="1.6" stroke-dasharray="5 3"/>
<path d="M91.5 1027C127.7 1027.2 180.2 1027.6 200 1027.5C207.5 1027.4 210.4 1028.3 215.4 1027.2C220.5 1026 225.9 1024.4 230 1020.5C235.2 1015.5 238.2 1006.2 241.7 997C246.3 984.9 250.1 969.1 253.4 953.4C257.1 935.5 259.6 914.5 262 895C264.4 875.6 265.4 855.3 268 836.7C270.4 819.4 272.1 799.6 276.7 787C279.8 778.4 282.8 772 288.4 766.7C294.3 761.1 304.7 757.4 311.7 755C316.9 753.2 318.6 752.6 326 752C350.8 749.9 435.1 756 489.7 758" fill="none" stroke="#C00000" stroke-width="4.8"/>
<path d="M501.3 970C447.8 968.3 369 967 340.9 965C330.9 964.3 327.5 962.3 320.5 962.7C312.9 963.1 303.6 964.8 297 968C291.2 970.8 286.3 974.6 282.5 979.6C278.4 985.1 276.5 992.5 273.8 1000C270.6 1008.7 267.3 1017.5 265 1029C261.8 1045 261.1 1069.5 259 1087.5C257.2 1103.1 255.8 1116.5 253.4 1131C251 1145.7 247.7 1161.2 244.6 1175C241.8 1187.4 239.7 1199.7 235.9 1210C232.7 1218.8 229.1 1228.6 224.2 1233.4C220.7 1236.9 218.4 1237.8 212 1239.2C192.8 1243.5 131.7 1239.2 91.5 1239.2" fill="none" stroke="#C00000" stroke-width="4.8"/>
<line x1="91.5" y1="994.8" x2="236" y2="994.8" stroke="#002060" stroke-width="5" stroke-dasharray="22 16 6 16"/>
<text x="403.9" y="797.3" font-size="36.5" font-family="'Liberation Sans', Arial, sans-serif" textLength="68.5" lengthAdjust="spacingAndGlyphs" fill="#C00000">light</text>
<text x="400.5" y="890.6" font-size="36.5" font-family="'Liberation Sans', Arial, sans-serif" textLength="71.3" lengthAdjust="spacingAndGlyphs" fill="#00B0F0">dark</text>
<text x="40.2" y="1004.4" font-size="39" font-family="'Liberation Sans', Arial, sans-serif" textLength="24.6" lengthAdjust="spacingAndGlyphs">E</text><text x="65.2" y="1013" font-size="26" font-family="'Liberation Sans', Arial, sans-serif" textLength="15" lengthAdjust="spacingAndGlyphs">F</text>
<text x="42.1" y="1049.5" font-size="39" font-family="'Liberation Sans', Arial, sans-serif" textLength="23.9" lengthAdjust="spacingAndGlyphs">E</text><text x="66.6" y="1058.3" font-size="26" font-family="'Liberation Sans', Arial, sans-serif" textLength="18.2" lengthAdjust="spacingAndGlyphs">C</text>
<text x="43.2" y="1232.8" font-size="39" font-family="'Liberation Sans', Arial, sans-serif" textLength="24.9" lengthAdjust="spacingAndGlyphs">E</text><text x="68" y="1241.7" font-size="26" font-family="'Liberation Sans', Arial, sans-serif" textLength="17" lengthAdjust="spacingAndGlyphs">V</text>
<text x="93.6" y="1291.7" font-size="37.5" font-family="'Liberation Sans', Arial, sans-serif" textLength="146.9" lengthAdjust="spacingAndGlyphs">Top gate</text>
<text x="273.7" y="1291.7" font-size="37.5" font-family="'Liberation Sans', Arial, sans-serif" textLength="280.9" lengthAdjust="spacingAndGlyphs">Ungated channel</text>
<path d="M519.2 740C519.5 756.7 519.8 774.3 520.2 790C520.6 804.1 520.7 815.9 521.5 830C522.4 845.7 523.9 864.6 525.3 880C526.5 893.2 526.5 905.3 529 916.8C531.2 927.3 535.6 937 538.8 946.2C541.7 954.4 543.7 962.9 547.4 969.4C550.5 974.8 553.5 978 558.4 983C566 990.8 578.9 1002.1 590.3 1009.9C601.7 1017.6 613.7 1023.3 627 1029.5C642 1036.5 659.5 1043.7 676 1049C692.2 1054.2 709.8 1058 725 1061.3C738.1 1064.2 749.5 1065.9 761.8 1068.2" fill="none" stroke="#1F3864" stroke-width="3.6"/>
<line x1="502" y1="969.4" x2="546" y2="969.4" stroke="#000" stroke-width="1.6" stroke-dasharray="5 4"/>
<line x1="511.9" y1="1067.8" x2="759" y2="1067.8" stroke="#000" stroke-width="1.6" stroke-dasharray="5 4"/>
<line x1="558.4" y1="737" x2="761.8" y2="1067.5" stroke="#000" stroke-width="3.6" stroke-dasharray="11.5 6"/>
<ellipse cx="546.6" cy="969.4" rx="5.6" ry="9" fill="#C00000"/>
<ellipse cx="764.2" cy="1068.7" rx="5.6" ry="9" fill="#00B0F0"/>
<text transform="translate(589,748) rotate(58.39)" font-size="36" font-family="'Liberation Serif', 'Times New Roman', serif" font-style="italic" textLength="268" lengthAdjust="spacingAndGlyphs">Boltzmann limit</text>
<polyline points="809.6,676 809.6,1117.7 534,1120.1" fill="none" stroke="#000" stroke-width="2"/>
<polygon points="809.6,656.3 798,678.5 821.2,678.5" fill="#000"/>
<polygon points="514.3,1120.1 536.4,1109 536.4,1131.2" fill="#000"/>
<text x="532.7" y="1177.7" font-size="36" font-family="'Liberation Serif', 'Times New Roman', serif" textLength="304" lengthAdjust="spacingAndGlyphs">log(<tspan font-style="italic">I</tspan><tspan font-style="italic" font-size="25" dy="6">D</tspan><tspan dy="-6">) (</tspan><tspan font-style="italic">a</tspan>rb.<tspan font-style="italic">units</tspan>)</text>
<text transform="translate(863,1082) rotate(-90)" font-size="36" font-family="'Liberation Serif', 'Times New Roman', serif" textLength="289" lengthAdjust="spacingAndGlyphs">Power(<tspan font-style="italic">arb</tspan>.<tspan font-style="italic">units</tspan>)</text>
<text x="-1.2" y="1363.5" font-size="37" font-family="'Liberation Sans', Arial, sans-serif" textLength="22.4" lengthAdjust="spacingAndGlyphs" font-weight="bold">d</text>
<rect x="14" y="1366.5" width="868" height="530.2" fill="none" stroke="#000" stroke-width="3.6" stroke-dasharray="15 11"/>
<text x="188.9" y="1435" font-size="52" font-family="'Liberation Sans', Arial, sans-serif" textLength="403.2" lengthAdjust="spacingAndGlyphs">conventional FET</text>
<text x="45.2" y="1520.9" font-size="39" font-family="'Liberation Sans', Arial, sans-serif" textLength="24.3" lengthAdjust="spacingAndGlyphs">E</text><text x="69.9" y="1529.8" font-size="26" font-family="'Liberation Sans', Arial, sans-serif" textLength="18.3" lengthAdjust="spacingAndGlyphs">C</text>
<line x1="87" y1="1505" x2="466.7" y2="1505" stroke="#C00000" stroke-width="4.7"/>
<text x="402.9" y="1544.4" font-size="36.8" font-family="'Liberation Sans', Arial, sans-serif" textLength="69" lengthAdjust="spacingAndGlyphs" fill="#C00000">light</text>
<line x1="89" y1="1593" x2="469.7" y2="1593" stroke="#00B0F0" stroke-width="5.2" stroke-dasharray="16 6.4"/>
<text x="399.5" y="1637.8" font-size="36.8" font-family="'Liberation Sans', Arial, sans-serif" textLength="72" lengthAdjust="spacingAndGlyphs" fill="#00B0F0">dark</text>
<text x="42.9" y="1698.8" font-size="39" font-family="'Liberation Sans', Arial, sans-serif" textLength="24.1" lengthAdjust="spacingAndGlyphs">E</text><text x="67.1" y="1707.6" font-size="26" font-family="'Liberation Sans', Arial, sans-serif" textLength="15.7" lengthAdjust="spacingAndGlyphs">F</text>
<line x1="90.4" y1="1697.8" x2="469.7" y2="1697.8" stroke="#002060" stroke-width="5.2" stroke-dasharray="22 17.5 6 16"/>
<text x="42.9" y="1733.4" font-size="39" font-family="'Liberation Sans', Arial, sans-serif" textLength="24.1" lengthAdjust="spacingAndGlyphs">E</text><text x="67.3" y="1741.8" font-size="26" font-family="'Liberation Sans', Arial, sans-serif" textLength="16.8" lengthAdjust="spacingAndGlyphs">V</text>
<line x1="89.6" y1="1714.4" x2="470.2" y2="1714.4" stroke="#C00000" stroke-width="4.7"/>
<line x1="89" y1="1808.6" x2="469.7" y2="1808.6" stroke="#00B0F0" stroke-width="5.2" stroke-dasharray="16 6.4"/>
<line x1="467.7" y1="1715" x2="752" y2="1715" stroke="#000" stroke-width="1.6" stroke-dasharray="5 4"/>
<line x1="469" y1="1809.5" x2="766" y2="1809.5" stroke="#000" stroke-width="1.6" stroke-dasharray="5 4"/>
<line x1="562.7" y1="1473.5" x2="765.5" y2="1799.7" stroke="#000" stroke-width="3.6" stroke-dasharray="11.5 6"/>
<path d="M656.4 1501.2C666.3 1520.1 676.1 1538.6 686 1558C696.2 1578.2 707.8 1600.1 716.7 1620C724.6 1637.7 731.5 1655.3 737.3 1671.3C742.3 1685 746.6 1696.9 750 1709.9C753.4 1722.6 755.4 1735.5 757.8 1748.4C760.2 1761.2 763 1775.9 764.2 1786.9C765.1 1795.2 765.1 1801.4 765.5 1808.7" fill="none" stroke="#1F3864" stroke-width="3.6"/>
<ellipse cx="752.7" cy="1715" rx="5.6" ry="9" fill="#C00000"/>
<ellipse cx="766.8" cy="1807.4" rx="5.6" ry="9" fill="#00B0F0"/>
<text transform="translate(526.5,1482) rotate(58.13)" font-size="36" font-family="'Liberation Serif', 'Times New Roman', serif" font-style="italic" textLength="268" lengthAdjust="spacingAndGlyphs">Boltzmann limit</text>
<polyline points="807.1,1388 807.1,1831.8 532,1833" fill="none" stroke="#000" stroke-width="2"/>
<polygon points="806.8,1368.8 795.8,1390.6 818,1390.6" fill="#000"/>
<polygon points="512.6,1833 534.5,1822 534.5,1844" fill="#000"/>
<text x="543.4" y="1875.5" font-size="36" font-family="'Liberation Serif', 'Times New Roman', serif" textLength="312" lengthAdjust="spacingAndGlyphs">log(<tspan font-style="italic">I</tspan><tspan font-style="italic" font-size="25" dy="6">D</tspan><tspan dy="-6">)  (</tspan><tspan font-style="italic">a</tspan>rb.<tspan font-style="italic">units</tspan>)</text>
<text transform="translate(863,1705) rotate(-90)" font-size="36" font-family="'Liberation Serif', 'Times New Roman', serif" textLength="289" lengthAdjust="spacingAndGlyphs">Power(<tspan font-style="italic">arb</tspan>.<tspan font-style="italic">units</tspan>)</text>
<text x="892" y="614" font-size="36" font-family="'Liberation Sans', Arial, sans-serif" font-weight="bold">e</text>
<defs><clipPath id="ce"><rect x="1009.6" y="632.8" width="692.9" height="557.6000000000001"/></clipPath></defs>
<g clip-path="url(#ce)"><path d="M1009.2 640.1C1017.4 643.3 1042.1 650.9 1058.3 659.3C1074.5 667.7 1092.7 679 1106.3 690.6C1119.9 702.2 1131.2 715.4 1140 729C1148.8 742.6 1153.6 757.1 1159.2 772.3C1164.8 787.5 1169.3 802.8 1173.7 820.4C1178.1 838 1182.5 858.1 1185.7 878.1C1188.9 898.1 1190.9 922.2 1192.9 940.6C1194.9 959 1196.9 980.7 1197.7 988.7L1198 977.4L1199.9 1174.3L1201.6 1170.9L1203 1016.9L1204.5 1069.9L1206 994.6L1208.2 1039.8L1210.4 1213L1212 1124.1L1213.6 1024.7L1215.5 1038.1L1217.3 1117.2L1218.9 1041.9L1220.6 1043.7L1222.2 1060.9L1223.8 1048.8L1225.9 1032.2L1228.1 1160.2L1230.1 1168.7L1231.5 1065.5L1233.4 1034L1235.3 1052.6L1237.1 1078.1L1238.9 1016.2L1240.8 1081.5L1242.9 996.9L1244.8 1165.4L1246.4 1117.1L1248.4 1139.7L1250.1 1017.6L1251.8 1073.8L1253.9 1031.5L1255.6 1005.9L1257.8 1131.1L1259.4 998.7L1261.3 990.1L1263 1051.6L1265.2 1048.1L1267 1015.8L1269.2 1073.2L1271.2 1039.9L1272.7 1016.4L1274.1 992.9L1275.8 1110L1277.3 1153.6L1278.8 1055L1280.3 996.3L1282 1211.9L1284.2 1045.9L1285.6 1151.1L1287.2 1023.3L1288.7 1049L1290.2 1013.9L1292 1072.4L1294 996.6L1295.5 1049.3L1297.5 994L1299.6 1071.7L1301.6 1063.8L1303.2 1036.9L1304.6 1143.5L1306.2 1079L1308 1081.2L1310.1 1027.4L1311.7 993.7L1313.6 1070.8L1315.4 1068L1316.9 1075.7L1318.9 1045.5L1320.4 1035.3L1322.5 1039.7L1324.2 1062.7L1325.7 1128.1L1327.9 1022.2L1329.9 1058L1331.6 1021.2L1333 1057.5L1334.8 1042.4L1336.9 1026.8L1338.5 994.3L1340.4 997.5L1341.9 1036.8L1343.7 1075.3L1345.4 1047.1L1347.2 1013.3L1349 990.1L1351 998.5L1353 1034.8L1354.8 1066.9L1356.3 1029.4L1357.9 1047.5L1359.8 1075.9L1361.5 1047.4L1363.3 1043.7L1365.2 1077.9L1367.1 1078L1368.7 1078L1370.8 1124.6L1372.6 1138.9L1374 1066.9L1376.1 1195.9L1378.1 1215.9L1380.2 1007.1L1382 1081.3L1384 1161.8L1385.8 993.5L1387.5 1013.4L1389.3 1013.3L1391 1047.9L1392.5 1067.2L1394.6 1141.9L1396.1 1030.9L1397.6 1075.8L1399.6 977.4L1401.8 1061L1403.2 1192.6L1405 1222.6L1406.9 1017.9L1409 1213.5L1410.7 991.9L1412.9 976.7L1414.7 975.9L1416.2 1134.2L1417.9 999.3L1419.5 1024.5L1421.2 1140.1L1422.6 1050.6L1424.1 1077.4L1425.6 1042.3L1427.4 1039.5L1429.2 1080.8L1430.9 1061.5L1432.8 1036.3L1433.3 1060.8C1434.1 1036.8 1435.7 956.6 1438.1 916.5C1440.5 876.4 1442.9 846 1447.7 820.4C1452.5 794.8 1458.9 778.7 1466.9 762.7C1474.9 746.7 1485.4 735.4 1495.8 724.2C1506.2 713 1523.8 700.2 1529.4 695.4" fill="none" stroke="#FF0000" stroke-width="4.6" stroke-linejoin="round"/><path d="M1009.6 695.8L1060.7 695.6L1060.7 695.6C1072.3 702 1110.8 719.4 1130.4 733.8C1150 748.2 1164.1 764.3 1178.5 781.9C1192.9 799.5 1204.9 817.2 1216.9 839.6C1228.9 862 1241 890.9 1250.6 916.5C1260.2 942.1 1268.2 969.5 1274.6 993.5C1281 1017.5 1285 1041.6 1289 1060.8C1293 1080 1295.5 1095.2 1298.7 1108.8C1301.9 1122.4 1304.7 1134.8 1308.3 1142.5C1311.9 1150.2 1316.3 1154.4 1320.3 1155.2C1324.3 1156 1327.1 1155 1332.3 1147.3C1337.5 1139.6 1345.1 1120.8 1351.5 1108.8C1357.9 1096.8 1363.6 1086.4 1370.8 1075.2C1378 1064 1386.8 1051.9 1394.8 1041.5C1402.8 1031.1 1406.8 1025.5 1418.8 1012.7C1430.8 999.9 1450.9 979 1466.9 964.6C1482.9 950.2 1495 938.2 1515 926.2C1535 914.2 1563.1 901.7 1587.1 892.5C1611.1 883.3 1640 876.5 1659.2 870.9C1678.4 865.3 1695.3 860.8 1702.5 858.8" fill="none" stroke="#000" stroke-width="4.6" stroke-linejoin="round"/><path d="M1009.2 697.8C1013.4 702.2 1025.2 712.6 1034.2 724.2C1043.2 735.8 1055 753.9 1063 767.5C1071 781.1 1076.7 792.4 1082.3 806C1087.9 819.6 1092.3 835.6 1096.7 849.2C1101.1 862.8 1105.6 876.5 1108.8 887.7C1112 898.9 1114.2 903.7 1116 916.5C1117.8 929.3 1118.8 948.6 1119.8 964.6C1120.8 980.6 1121.5 996.7 1122.2 1012.7C1122.9 1028.7 1123.5 1044.6 1124.1 1060.8C1124.7 1077 1125.1 1098.5 1125.6 1110C1126.1 1121.5 1126.8 1126.7 1127 1130L1128.5 1135L1129.5 1100L1130.5 1070L1131.5 1090L1132.5 1135L1133.5 1080L1135 1072L1136.5 1079.9L1138.1 1083L1139.3 1096L1140.8 1084L1142.2 1088.1L1143.6 1084L1145.3 1090.5L1147.1 1085.5L1148.2 1087.3L1149.7 1083.6L1150.8 1085.1L1152.2 1110L1153.4 1092.6L1155 1094.4L1156.8 1088.8L1158.5 1083.8L1160.1 1081.7L1161.8 1094.8L1163.5 1084.4L1164.9 1099.9L1166.6 1094.6L1168.2 1097.3L1169.3 1085.1L1170.5 1100.8L1172 1096.4L1173.5 1082.9L1175.1 1094.2L1176.7 1084.8L1177.9 1085.2L1179.6 1088.3L1181.3 1095L1182.8 1099.3L1184.3 1098.7L1185.5 1090.3L1186.8 1111L1188.1 1099.9L1189.7 1091.8L1191.1 1095.9L1192.8 1090.3L1194.6 1086.5L1196.3 1107.7L1197.5 1091.2L1198.8 1099.6L1200.3 1108L1201.9 1098.2L1203.5 1092.1L1205 1120.9L1206.4 1093.6L1207.7 1094L1208.8 1103.5L1210 1107.4L1211.7 1093.4L1213.1 1109L1214.5 1096.4L1215.6 1089.2L1216.9 1107.6L1218.2 1098.2L1219.6 1108L1221.2 1100.9L1223 1099.1L1224.1 1103.1L1225.7 1101.2L1226.9 1107.4L1228.3 1094.6L1229.9 1108.5L1231.5 1093.6L1232.9 1090.7L1234.1 1106.9L1235.4 1106.9L1236.8 1090.1L1237.9 1094.5L1239.2 1092.7L1240.9 1103.5L1242.3 1098.5L1243.6 1088.4L1245.4 1089.8L1247 1106L1248.3 1092.5L1249.7 1108L1251.4 1124.8L1253.1 1097.4L1254.2 1095.6L1255.9 1105.8L1257.2 1089.4L1258.6 1102L1260.2 1101.2L1261.7 1126.1L1262.9 1107.2L1264.2 1089.8L1265.8 1102.4L1266.9 1098.5L1268.3 1091.9L1269.4 1093.6L1271.2 1101.2L1272.6 1092.2L1274.4 1102.5L1275.5 1098L1276.9 1092.7L1278.6 1118.1L1280 1102L1281.7 1103.3L1282.9 1108.3L1284.6 1092.1L1286.2 1093.5L1287.7 1091.1L1289.1 1101.6L1290.3 1095.7L1292.1 1113.1L1293.4 1106.8L1295 1108.9L1296.4 1091.1L1298 1087.7L1299.4 1095.2L1300.6 1087L1301.9 1107.8L1303.7 1091.1L1305.4 1104.4L1306.5 1096.6L1308.3 1090.2L1310 1086.4L1311.7 1111.2L1312.8 1105.6L1314.4 1105L1315.7 1106.1L1317 1100.6L1318.3 1084.8L1320 1098.4L1321.1 1089.5L1322.9 1105.1L1324.2 1093.4L1325.9 1087.8L1327.6 1101.7L1329.1 1090.6L1330.4 1100.4L1331.7 1099.6L1332.8 1083.6L1334.1 1104.3L1335.9 1088.3L1337.1 1093.3L1338.5 1087.3L1340.1 1096.8L1341.7 1096.4L1343.4 1088L1344.8 1097.6L1346.1 1086.6L1347.8 1093.7L1349.2 1102.7L1350.4 1098.5L1352.2 1082.7L1353.9 1098.8L1355 1086.6L1356.3 1101.4L1358 1087.9L1359.4 1085.3L1361.2 1081.7L1362.7 1083.9L1363.9 1083.5L1365.4 1093.2L1366.5 1085.9L1367.8 1085.4L1369.4 1090.4L1370.6 1086.9L1372.1 1080L1373.7 1086.8L1375.1 1098.6L1376.5 1085.3L1378.3 1099.1L1379.5 1093.1L1380.6 1096.7L1382.3 1085.4L1383.7 1111L1385.2 1095.7L1386.8 1083.5L1388 1081.2L1389.7 1077L1391.4 1095.4L1392.6 1094.6L1394 1074.7L1395.4 1093L1397.1 1076.3L1398.3 1081.3L1400 1076L1401.4 1083L1402.6 1076.8L1404.3 1071.8L1405.9 1071.4L1407.1 1083.4L1408.6 1076.6L1410.2 1078.8L1411.6 1105.2L1413 1073.9L1414.7 1078.4L1416.1 1070.3L1417.5 1069.6L1418.9 1068.2L1420.1 1083.1L1421.6 1067.8L1422.9 1087.2L1424.6 1087.8L1426.3 1069.7L1427.7 1086.1L1429 1082.1L1430.1 1072.2L1431.3 1083.9L1433 1066.9L1434.7 1067.9L1436.2 1091.2L1437.4 1083.3L1439.1 1065.9L1440.3 1073.6L1441.7 1080.8L1443.2 1080.6L1445 1074.6L1446.6 1066.2L1448.1 1067.9L1449.5 1063.5L1450.7 1077.4L1452.2 1080.6L1453.8 1084.2L1455 1071.8L1456.4 1077.6L1457.7 1082.6L1459 1059.6L1460.3 1069.4L1461.5 1069.8L1462.7 1075.1L1463.9 1059.6L1465.7 1071.5L1466.9 1057.3L1468.4 1063L1469.8 1073.2L1471.1 1088.5L1472.5 1092.6L1473.6 1065.2L1474.8 1058.5L1476.3 1066.1L1477.5 1059.8L1478.6 1069.9L1480.2 1053.6L1481.8 1061.4L1483.3 1056.7L1484.5 1053L1486.1 1064.3L1487.7 1056.2L1489.1 1065.2L1490.4 1062.2L1491.7 1078L1493 1063.3L1494.6 1055.4L1495.9 1053.4L1497.4 1061.2L1499.2 1056.7L1500.8 1063.2L1502.4 1057.6L1503.7 1058.2L1505.4 1071.4L1507.2 1052.2L1508.3 1046.5L1509.8 1057.8L1511 1055.6L1512.6 1059.3L1513.8 1059.8L1515.6 1045.7L1516.7 1044L1518.4 1054.4L1519.9 1047.7L1521.1 1055.8L1522.4 1069.5L1523.7 1054.4L1525.1 1058.5L1526.8 1071.1L1528.2 1054.2L1529.7 1049.5L1531.5 1041L1532.7 1039L1534.3 1070.4L1535.7 1052.5L1537.2 1044L1538.5 1054.4L1539.7 1049.7L1540.9 1048.2L1542.6 1048.8L1544.1 1042.3L1545.5 1051.5L1547.2 1035.5L1548.5 1050.9L1549.8 1050.2L1551.3 1043.5L1552.9 1045.1L1554.2 1035.9L1555.8 1046L1557.2 1046.2L1558.4 1040.3L1559.6 1035L1561.2 1046.3L1562.4 1035.3L1563.9 1033.3L1565.1 1047.6L1566.3 1047.1L1567.7 1047.1L1569.3 1036.8L1570.8 1030.4L1572.2 1028.8L1573.9 1040.2L1575.4 1035.6L1576.9 1034.1L1578.7 1034.1L1580.3 1033.5L1581.9 1041.3L1583.5 1040.4L1585 1032.8L1586.6 1026L1588.2 1036.6L1589.5 1031.1L1591 1030.4L1592.8 1025.8L1594.4 1029.1L1596.2 1022.3L1597.4 1035.4L1598.9 1022.7L1600.4 1033.4L1601.9 1035L1603.3 1036.8L1604.9 1026.4L1606.1 1036.7L1607.2 1023.6L1608.3 1025.9L1609.9 1024.3L1611.2 1031L1612.6 1021.1L1614 1020.7L1615.7 1031L1617.1 1026.1L1618.9 1021.9L1620.5 1029.8L1621.8 1024.6L1623.5 1020.7L1624.8 1020.7L1626.2 1049.5L1627.5 1017.6L1628.9 1020.5L1630.5 1018.9L1632.2 1013L1633.9 1025.6L1635.6 1034.2L1637.4 1022.3L1638.6 1012.8L1640.2 1016L1641.9 1023.6L1643.7 1019.8L1645.2 1024.5L1646.9 1011.5L1648.4 1020.9L1650.1 1017.1L1651.4 1009.3L1652.5 1014.9L1653.9 1015L1655.6 1005.7L1657.1 1015.4L1658.8 1011.5L1660.5 1005.7L1662.1 1004.4L1663.7 1020.2L1665.4 1012.2L1667.2 1003.1L1668.7 1008.2L1670.1 1010.3L1671.7 1005.1L1673.1 1010.9L1674.4 1015.5L1675.9 1005.1L1677.6 1011.5L1679 1005L1680.5 1010.4L1681.6 1011.6L1683.1 999.1L1684.2 1001.3L1685.7 1009.4L1687.5 1008.1L1689 1009.2L1690.6 1000L1692 1009.6L1693.2 996.2L1695 1006.8L1696.6 1008.7L1697.9 999.7L1699.2 1001.6L1701 994.4L1702.1 995.2L1702.5 1002" fill="none" stroke="#1E6FDF" stroke-width="4.4" stroke-linejoin="round"/></g>
<rect x="1009.6" y="632.8" width="692.9" height="557.6000000000001" fill="none" stroke="#000" stroke-width="2"/>
<path d="M1004.6 1190.4H1009.6M1004.6 1181.3H1009.6M1004.6 1173.6H1009.6M1004.6 1166.9H1009.6M1004.6 1161.1H1009.6M999.6 1155.8H1009.6M1004.6 1121.2H1009.6M1004.6 1100.9H1009.6M1004.6 1086.6H1009.6M1004.6 1075.4H1009.6M1004.6 1066.3H1009.6M1004.6 1058.6H1009.6M1004.6 1051.9H1009.6M1004.6 1046.1H1009.6M999.6 1040.8H1009.6M1004.6 1006.2H1009.6M1004.6 985.9H1009.6M1004.6 971.6H1009.6M1004.6 960.4H1009.6M1004.6 951.3H1009.6M1004.6 943.6H1009.6M1004.6 936.9H1009.6M1004.6 931.1H1009.6M999.6 925.8H1009.6M1004.6 891.2H1009.6M1004.6 870.9H1009.6M1004.6 856.6H1009.6M1004.6 845.4H1009.6M1004.6 836.3H1009.6M1004.6 828.6H1009.6M1004.6 821.9H1009.6M1004.6 816.1H1009.6M999.6 810.8H1009.6M1004.6 776.2H1009.6M1004.6 755.9H1009.6M1004.6 741.6H1009.6M1004.6 730.4H1009.6M1004.6 721.3H1009.6M1004.6 713.6H1009.6M1004.6 706.9H1009.6M1004.6 701.1H1009.6M999.6 695.8H1009.6M1004.6 661.2H1009.6M1004.6 640.9H1009.6M1009.6 1190.4V1200.4M1096.2 1190.4V1195.4M1182.7 1190.4V1200.4M1269.2 1190.4V1195.4M1355.8 1190.4V1200.4M1442.3 1190.4V1195.4M1528.9 1190.4V1200.4M1615.5 1190.4V1195.4M1702 1190.4V1200.4" stroke="#000" stroke-width="2" fill="none"/>
<text x="952.4" y="1164.6" font-size="23.5" font-family="'Liberation Sans', Arial, sans-serif" textLength="22.8" lengthAdjust="spacingAndGlyphs">10</text><text x="975.1" y="1155" font-size="16" font-family="'Liberation Sans', Arial, sans-serif" textLength="16.4" lengthAdjust="spacingAndGlyphs">-3</text>
<text x="952.4" y="1049.6" font-size="23.5" font-family="'Liberation Sans', Arial, sans-serif" textLength="22.8" lengthAdjust="spacingAndGlyphs">10</text><text x="975.1" y="1040" font-size="16" font-family="'Liberation Sans', Arial, sans-serif" textLength="16.4" lengthAdjust="spacingAndGlyphs">-2</text>
<text x="952.4" y="934.6" font-size="23.5" font-family="'Liberation Sans', Arial, sans-serif" textLength="22.8" lengthAdjust="spacingAndGlyphs">10</text><text x="975.1" y="925" font-size="16" font-family="'Liberation Sans', Arial, sans-serif" textLength="16.4" lengthAdjust="spacingAndGlyphs">-1</text>
<text x="957" y="819.6" font-size="23.5" font-family="'Liberation Sans', Arial, sans-serif" textLength="22.9" lengthAdjust="spacingAndGlyphs">10</text><text x="983.7" y="809.6" font-size="16" font-family="'Liberation Sans', Arial, sans-serif" textLength="8" lengthAdjust="spacingAndGlyphs">0</text>
<text x="957" y="704.6" font-size="23.5" font-family="'Liberation Sans', Arial, sans-serif" textLength="22.9" lengthAdjust="spacingAndGlyphs">10</text><text x="984.4" y="694.6" font-size="16" font-family="'Liberation Sans', Arial, sans-serif" textLength="6.6" lengthAdjust="spacingAndGlyphs">1</text>
<text x="998.7" y="1228" font-size="23.5" font-family="'Liberation Sans', Arial, sans-serif" textLength="22.7" lengthAdjust="spacingAndGlyphs">-6</text>
<text x="1171.8" y="1228" font-size="23.5" font-family="'Liberation Sans', Arial, sans-serif" textLength="22.1" lengthAdjust="spacingAndGlyphs">-4</text>
<text x="1344.9" y="1228" font-size="23.5" font-family="'Liberation Sans', Arial, sans-serif" textLength="22.7" lengthAdjust="spacingAndGlyphs">-2</text>
<text x="1523.3" y="1228" font-size="23.5" font-family="'Liberation Sans', Arial, sans-serif" textLength="11.1" lengthAdjust="spacingAndGlyphs">0</text>
<text x="1696.2" y="1228" font-size="23.5" font-family="'Liberation Sans', Arial, sans-serif" textLength="11.6" lengthAdjust="spacingAndGlyphs">2</text>
<text x="1312.7" y="1272.3" font-size="30" font-family="'Liberation Sans', Arial, sans-serif" textLength="88.7" lengthAdjust="spacingAndGlyphs">Vbg(V)</text>
<g transform="translate(918.7,932.7) rotate(-90)"><text x="-1.2" y="0" font-size="30" font-family="'Liberation Sans', Arial, sans-serif" textLength="74.7" lengthAdjust="spacingAndGlyphs">σ(μS)</text></g>
<line x1="1220" y1="676.8" x2="1284.5" y2="676.8" stroke="#1E6FDF" stroke-width="5.3" stroke-linecap="round"/>
<text x="1291.5" y="686.9" font-size="29.5" font-family="'Liberation Sans', Arial, sans-serif">Vtg<tspan font-size="19" dy="7">1</tspan><tspan dy="-7">=6 V</tspan></text>
<line x1="1220" y1="718.6" x2="1284.5" y2="718.6" stroke="#FF0000" stroke-width="5.3" stroke-linecap="round"/>
<text x="1291.5" y="728.7" font-size="29.5" font-family="'Liberation Sans', Arial, sans-serif">Vtg<tspan font-size="19" dy="7">2</tspan><tspan dy="-7">=-6 V</tspan></text>
<line x1="1220" y1="760.4" x2="1284.5" y2="760.4" stroke="#000" stroke-width="5.3" stroke-linecap="round"/>
<text x="1291.5" y="770.5" font-size="29.5" font-family="'Liberation Sans', Arial, sans-serif">Without Vtg</text>
<rect x="1108.7" y="974.3" width="30.8" height="87.6" fill="none" stroke="#14284F" stroke-width="3.8" stroke-dasharray="11 4.3" stroke-dashoffset="-2"/>
<rect x="1421.2" y="915.6" width="31.3" height="87.5" fill="none" stroke="#14284F" stroke-width="3.8" stroke-dasharray="11 4.3" stroke-dashoffset="-2"/>
<path d="M1120.5 1069L1095.5 1329M1084.4 1304.3L1095.3 1330.5L1111.3 1306.5" fill="none" stroke="#000" stroke-width="2.6"/>
<path d="M1452.5 1003L1507.8 1324M1490.6 1302L1508 1325.5L1517.8 1300" fill="none" stroke="#000" stroke-width="2.6"/>
<text x="946" y="1362.6" font-size="38" font-family="'Liberation Sans', Arial, sans-serif" font-weight="bold">f</text>
<defs><clipPath id="cf"><rect x="1033.6" y="1333.5" width="242.9000000000001" height="532.0"/></clipPath></defs>
<g clip-path="url(#cf)"><path d="M1040.8 1409L1063.2 1419.8L1085.9 1434.3L1108.8 1454.8L1131.9 1513.7L1155 1590L1177.6 1702.5L1200.5 1795.4L1223.2 1848.3L1245.8 1836.4L1268.5 1834.2" fill="none" stroke="#0000FF" stroke-width="4.2" stroke-linecap="round" stroke-dasharray="23 29" stroke-dashoffset="24"/><path d="M1069.2 1464V1847.2M1069.2 1847.2H1199.9M1069.2 1464L1199.9 1833.2" fill="none" stroke="#000" stroke-width="5.4" stroke-dasharray="26.5 25.8"/><circle cx="1040.8" cy="1409" r="12.6" fill="#0000FF"/><circle cx="1037.5" cy="1405.5" r="5.3" fill="#9c9cff"/><circle cx="1037.5" cy="1405.5" r="2.5" fill="#fff"/><circle cx="1063.2" cy="1419.8" r="12.6" fill="#0000FF"/><circle cx="1059.9" cy="1416.3" r="5.3" fill="#9c9cff"/><circle cx="1059.9" cy="1416.3" r="2.5" fill="#fff"/><circle cx="1085.9" cy="1434.3" r="12.6" fill="#0000FF"/><circle cx="1082.6" cy="1430.8" r="5.3" fill="#9c9cff"/><circle cx="1082.6" cy="1430.8" r="2.5" fill="#fff"/><circle cx="1108.8" cy="1454.8" r="12.6" fill="#0000FF"/><circle cx="1105.5" cy="1451.3" r="5.3" fill="#9c9cff"/><circle cx="1105.5" cy="1451.3" r="2.5" fill="#fff"/><circle cx="1131.9" cy="1513.7" r="12.6" fill="#0000FF"/><circle cx="1128.6" cy="1510.2" r="5.3" fill="#9c9cff"/><circle cx="1128.6" cy="1510.2" r="2.5" fill="#fff"/><circle cx="1155" cy="1590" r="12.6" fill="#0000FF"/><circle cx="1151.7" cy="1586.5" r="5.3" fill="#9c9cff"/><circle cx="1151.7" cy="1586.5" r="2.5" fill="#fff"/><circle cx="1177.6" cy="1702.5" r="12.6" fill="#0000FF"/><circle cx="1174.3" cy="1699" r="5.3" fill="#9c9cff"/><circle cx="1174.3" cy="1699" r="2.5" fill="#fff"/><circle cx="1200.5" cy="1795.4" r="12.6" fill="#0000FF"/><circle cx="1197.2" cy="1791.9" r="5.3" fill="#9c9cff"/><circle cx="1197.2" cy="1791.9" r="2.5" fill="#fff"/><circle cx="1223.2" cy="1848.3" r="12.6" fill="#0000FF"/><circle cx="1219.9" cy="1844.8" r="5.3" fill="#9c9cff"/><circle cx="1219.9" cy="1844.8" r="2.5" fill="#fff"/><circle cx="1245.8" cy="1836.4" r="12.6" fill="#0000FF"/><circle cx="1242.5" cy="1832.9" r="5.3" fill="#9c9cff"/><circle cx="1242.5" cy="1832.9" r="2.5" fill="#fff"/><circle cx="1268.5" cy="1834.2" r="12.6" fill="#0000FF"/><circle cx="1265.2" cy="1830.7" r="5.3" fill="#9c9cff"/><circle cx="1265.2" cy="1830.7" r="2.5" fill="#fff"/></g>
<rect x="1033.6" y="1333.5" width="242.9000000000001" height="532.0" fill="none" stroke="#000" stroke-width="2.2"/>
<path d="M1023.1 1865.5H1033.6M1028.1 1749.4H1033.6M1028.1 1681.5H1033.6M1028.1 1633.3H1033.6M1028.1 1595.9H1033.6M1028.1 1565.4H1033.6M1028.1 1539.5H1033.6M1028.1 1517.2H1033.6M1028.1 1497.4H1033.6M1023.1 1479.8H1033.6M1028.1 1363.7H1033.6M1040.5 1865.5V1876M1154.5 1865.5V1871M1268.5 1865.5V1876" stroke="#000" stroke-width="2" fill="none"/>
<text x="988.6" y="1485.7" font-size="19.5" font-family="'Liberation Sans', Arial, sans-serif" textLength="26.5" lengthAdjust="spacingAndGlyphs">0.1</text>
<text x="977.1" y="1872" font-size="19.5" font-family="'Liberation Sans', Arial, sans-serif" textLength="36.7" lengthAdjust="spacingAndGlyphs">0.01</text>
<text x="1023.2" y="1898" font-size="19.5" font-family="'Liberation Sans', Arial, sans-serif" textLength="35.1" lengthAdjust="spacingAndGlyphs">-4.8</text>
<text x="1250.9" y="1898" font-size="19.5" font-family="'Liberation Sans', Arial, sans-serif" textLength="35" lengthAdjust="spacingAndGlyphs">-4.7</text>
<text x="1099.2" y="1913" font-size="26" font-family="'Liberation Sans', Arial, sans-serif" textLength="80.9" lengthAdjust="spacingAndGlyphs">Vbg(v)</text>
<g transform="translate(965,1669.8) rotate(-90)"><text x="-1.1" y="0" font-size="30" font-family="'Liberation Sans', Arial, sans-serif" textLength="71.8" lengthAdjust="spacingAndGlyphs">σ(μS)</text></g>
<text x="1364.5" y="1361" font-size="38" font-family="'Liberation Sans', Arial, sans-serif" font-weight="bold">g</text>
<defs><clipPath id="cg"><rect x="1410.9" y="1328.4" width="244.39999999999986" height="538.1999999999998"/></clipPath></defs>
<g clip-path="url(#cg)"><path d="M1417.5 1854.2L1440.4 1836.1L1462.6 1841.1L1485.1 1720.7L1508 1649L1530.9 1579.3L1553.4 1494.8L1576.1 1443L1599 1398.2L1621.5 1364.4L1644 1347" fill="none" stroke="#FF0000" stroke-width="4.2" stroke-linecap="round" stroke-dasharray="23 29" stroke-dashoffset="8"/><path d="M1632.4 1518L1499.3 1831.3M1499.3 1833.9H1632.4M1630.6 1518V1833.9" fill="none" stroke="#000" stroke-width="5.4" stroke-dasharray="26.5 25.8"/><circle cx="1644" cy="1347" r="12.7" fill="#FF0000"/><circle cx="1640.7" cy="1343.5" r="5.3" fill="#ffb0b0"/><circle cx="1640.7" cy="1343.5" r="2.5" fill="#fff"/><circle cx="1621.5" cy="1364.4" r="12.7" fill="#FF0000"/><circle cx="1618.2" cy="1360.9" r="5.3" fill="#ffb0b0"/><circle cx="1618.2" cy="1360.9" r="2.5" fill="#fff"/><circle cx="1599" cy="1398.2" r="12.7" fill="#FF0000"/><circle cx="1595.7" cy="1394.7" r="5.3" fill="#ffb0b0"/><circle cx="1595.7" cy="1394.7" r="2.5" fill="#fff"/><circle cx="1576.1" cy="1443" r="12.7" fill="#FF0000"/><circle cx="1572.8" cy="1439.5" r="5.3" fill="#ffb0b0"/><circle cx="1572.8" cy="1439.5" r="2.5" fill="#fff"/><circle cx="1553.4" cy="1494.8" r="12.7" fill="#FF0000"/><circle cx="1550.1" cy="1491.3" r="5.3" fill="#ffb0b0"/><circle cx="1550.1" cy="1491.3" r="2.5" fill="#fff"/><circle cx="1530.9" cy="1579.3" r="12.7" fill="#FF0000"/><circle cx="1527.6" cy="1575.8" r="5.3" fill="#ffb0b0"/><circle cx="1527.6" cy="1575.8" r="2.5" fill="#fff"/><circle cx="1508" cy="1649" r="12.7" fill="#FF0000"/><circle cx="1504.7" cy="1645.5" r="5.3" fill="#ffb0b0"/><circle cx="1504.7" cy="1645.5" r="2.5" fill="#fff"/><circle cx="1485.1" cy="1720.7" r="12.7" fill="#FF0000"/><circle cx="1481.8" cy="1717.2" r="5.3" fill="#ffb0b0"/><circle cx="1481.8" cy="1717.2" r="2.5" fill="#fff"/><circle cx="1462.6" cy="1841.1" r="12.7" fill="#FF0000"/><circle cx="1459.3" cy="1837.6" r="5.3" fill="#ffb0b0"/><circle cx="1459.3" cy="1837.6" r="2.5" fill="#fff"/><circle cx="1440.4" cy="1836.1" r="12.7" fill="#FF0000"/><circle cx="1437.1" cy="1832.6" r="5.3" fill="#ffb0b0"/><circle cx="1437.1" cy="1832.6" r="2.5" fill="#fff"/><circle cx="1417.5" cy="1854.2" r="12.7" fill="#FF0000"/><circle cx="1414.2" cy="1850.7" r="5.3" fill="#ffb0b0"/><circle cx="1414.2" cy="1850.7" r="2.5" fill="#fff"/></g>
<rect x="1410.9" y="1328.4" width="244.39999999999986" height="538.1999999999998" fill="none" stroke="#000" stroke-width="2.2"/>
<path d="M1655.3 1842.4H1660.8M1655.3 1821H1660.8M1655.3 1802.4H1660.8M1655.3 1786H1660.8M1655.3 1771.3H1665.8M1655.3 1674.8H1660.8M1655.3 1618.3H1660.8M1655.3 1578.2H1660.8M1655.3 1547.1H1660.8M1655.3 1521.7H1660.8M1655.3 1500.3H1660.8M1655.3 1481.7H1660.8M1655.3 1465.3H1660.8M1655.3 1450.6H1665.8M1655.3 1354.1H1660.8M1417.5 1866.6V1877.1M1531 1866.6V1872.1M1644.4 1866.6V1877.1" stroke="#000" stroke-width="2" fill="none"/>
<text x="1677" y="1456.7" font-size="19.5" font-family="'Liberation Sans', Arial, sans-serif" textLength="27.3" lengthAdjust="spacingAndGlyphs">0.1</text>
<text x="1677" y="1776.7" font-size="19.5" font-family="'Liberation Sans', Arial, sans-serif" textLength="37.4" lengthAdjust="spacingAndGlyphs">0.01</text>
<text x="1400.2" y="1901" font-size="19.5" font-family="'Liberation Sans', Arial, sans-serif" textLength="33.3" lengthAdjust="spacingAndGlyphs">-1.1</text>
<text x="1635" y="1901" font-size="19.5" font-family="'Liberation Sans', Arial, sans-serif" textLength="15.7" lengthAdjust="spacingAndGlyphs">-1</text>
<text x="1484.7" y="1918.6" font-size="26" font-family="'Liberation Sans', Arial, sans-serif" textLength="81.8" lengthAdjust="spacingAndGlyphs">Vbg(v)</text>
<g transform="translate(1697,1633.1) rotate(-90)"><text x="-1.2" y="0" font-size="30" font-family="'Liberation Sans', Arial, sans-serif" textLength="72.7" lengthAdjust="spacingAndGlyphs">σ(μS)</text></g>
</svg></body></html>
